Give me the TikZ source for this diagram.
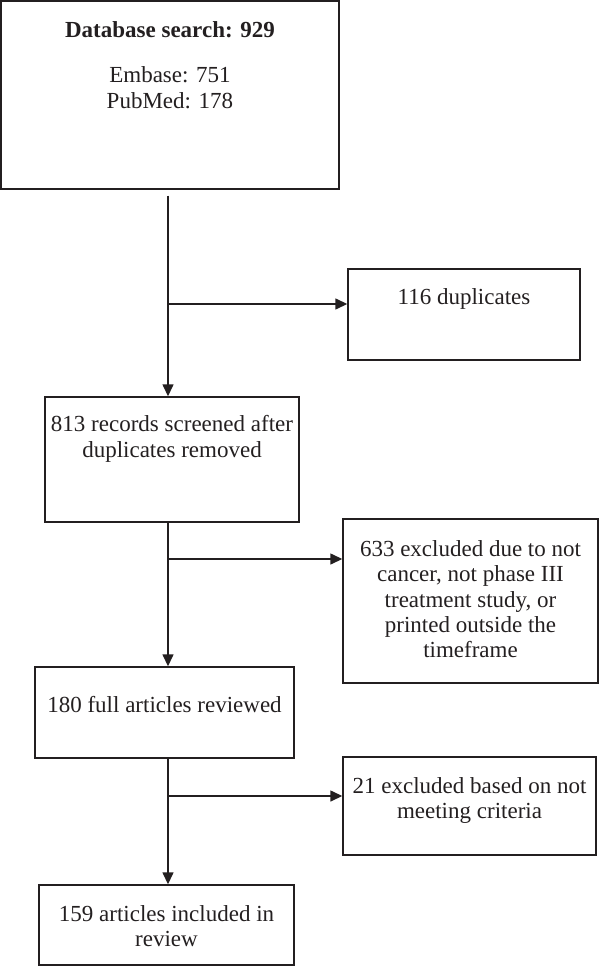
\documentclass[tikz,border=0pt]{standalone}
\usepackage{fontspec}
\setmainfont{Liberation Serif}
\usetikzlibrary{arrows.meta,positioning}
\definecolor{ink}{RGB}{35,31,32}

\begin{document}
\begin{tikzpicture}[x=0.5pt,y=-0.5pt,
    box/.style={draw=ink, line width=0.7pt, inner sep=0pt},
    txt/.style={text=ink, align=center, inner sep=0pt, font=\fontsize{11.5}{12.6}\selectfont},
    flow/.style={draw=ink, line width=0.7pt, -{Triangle[length=6pt,width=5.5pt]}}]
    \useasboundingbox (0,0) rectangle (600,968);

    % Main column boxes
    \node[box, minimum width=169pt, minimum height=94pt] (db) at (170,95) {};
    \node[box, minimum width=127pt, minimum height=62.5pt] (scr) at (172,459.5) {};
    \node[box, minimum width=129.5pt, minimum height=45.5pt] (full) at (164.5,712.5) {};
    \node[box, minimum width=127.5pt, minimum height=40pt] (incl) at (166.5,925) {};

    % Exclusion boxes
    \node[box, minimum width=116pt, minimum height=45.5pt] (dup) at (464,314.5) {};
    \node[box, minimum width=127.5pt, minimum height=82pt] (excl) at (470.5,601) {};
    \node[box, minimum width=126.5pt, minimum height=49pt] (crit) at (469.5,806) {};

    % Texts
    \node[txt, below=10.5pt of db.north] (dbt) {\textbf{Database search: 929}\\[10pt]Embase: 751\\PubMed: 178};
    \node[txt, below=9.5pt of scr.north] (scrt) {813 records screened after\\duplicates removed};
    \node[txt, below=15pt of full.north] (fullt) {180 full articles reviewed};
    \node[txt, below=10.5pt of incl.north] (inclt) {159 articles included in\\review};
    \node[txt, below=10pt of dup.north] (dupt) {116 duplicates};
    \node[txt, below=11pt of excl.north] (exclt) {633 excluded due to not\\cancer, not phase III\\treatment study, or\\printed outside the\\timeframe};
    \node[txt, below=10.5pt of crit.north] (critt) {21 excluded based on not\\meeting criteria};

    % Main line and branch points
    \coordinate (axis) at (168,0);
    \coordinate (b1) at (168,304);
    \coordinate (b2) at (168,559);
    \coordinate (b3) at (168,796);

    \draw[flow, shorten <=3pt] (db.south -| axis) -- (scr.north -| axis);
    \draw[flow] (scr.south -| axis) -- (full.north -| axis);
    \draw[flow] (full.south -| axis) -- (incl.north -| axis);
    \draw[flow] (b1) -- (b1 -| dup.west);
    \draw[flow] (b2) -- (b2 -| excl.west);
    \draw[flow] (b3) -- (b3 -| crit.west);
\end{tikzpicture}
\end{document}
